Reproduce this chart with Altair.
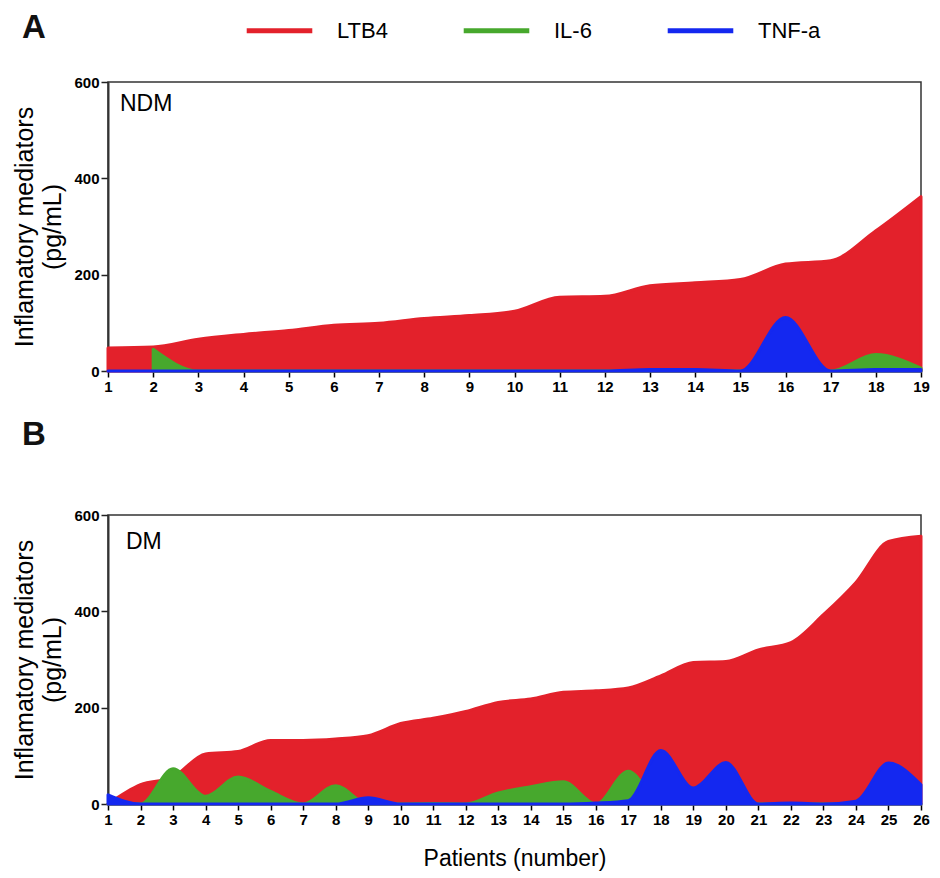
import altair as alt
import pandas as pd

# ---------------- data ----------------
mediators = ["LTB4", "IL-6", "TNF-a"]
colors = ["#e3212b", "#47a82d", "#1428f0"]

patients_ndm = list(range(1, 20))
ltb4_ndm = [48, 50, 66, 76, 84, 95, 99, 109, 115, 124, 153, 155, 177, 183, 190, 222, 229, 291, 362]
il6_ndm = [None, 45, 0, 0, 0, 0, 0, 0, 0, 0, 0, 0, 0, 0, 0, 0, 0, 34, 6]
tnf_ndm = [0, 0, 0, 0, 0, 0, 0, 0, 0, 0, 0, 0, 3, 3, 0, 111, 0, 3, 3]

patients_dm = list(range(1, 27))
ltb4_dm = [0, 40, 56, 104, 109, 132, 132, 135, 142, 167, 178, 192, 211, 218, 232, 235, 241, 266,
           294, 296, 320, 335, 393, 460, 545, 556]
il6_dm = [0, 0, 73, 16, 56, 26, 0, 38, 0, 0, 1, 0, 23, 36, 46, 0, 68, 0, 2, 0, 0, 0, 0, 0, 0, 0]
tnf_dm = [19, 0, 0, 0, 0, 0, 0, 0, 13, 0, 0, 0, 0, 0, 0, 2, 7, 111, 33, 86, 0, 2, 0, 6, 85, 40]

y_ticks = [0, 200, 400, 600]

FONT = "Liberation Sans"


def long_df(patients, series):
    rows = []
    for name, vals in zip(mediators, series):
        for p, v in zip(patients, vals):
            rows.append({"patient": p, "value": v, "mediator": name})
    return pd.DataFrame(rows)


def panel(patients, series, label, letter, letter_y, show_legend, show_xtitle):
    df = long_df(patients, series)
    n = patients[-1]
    x = alt.X(
        "patient:Q",
        scale=alt.Scale(domain=[1, n], nice=False, zero=False),
        axis=alt.Axis(
            values=patients, title="Patients (number)" if show_xtitle else None,
            labelFontWeight="bold", labelFontSize=15, labelFont=FONT,
            labelColor="black", labelPadding=2, tickSize=6, tickColor="black",
            tickWidth=1.5, domainColor="black", domainWidth=1.5, grid=False,
            labelFlush=False, titleFont=FONT, titleFontSize=23,
            titleFontWeight="normal", titleColor="black", titlePadding=20,
        ),
    )
    y = alt.Y(
        "value:Q",
        stack=None,
        scale=alt.Scale(domain=[0, 600], nice=False),
        axis=alt.Axis(
            values=y_ticks, title=["Inflamatory mediators", "(pg/mL)"],
            labelFontWeight="bold", labelFontSize=15, labelFont=FONT,
            labelColor="black", labelPadding=2, tickSize=7, tickColor="#222",
            tickWidth=1.5, domainColor="#333", domainWidth=2, grid=False,
            titleFont=FONT, titleFontSize=25, titleFontWeight="normal",
            titleColor="black", titlePadding=8, titleLineHeight=28,
        ),
    )
    if show_legend:
        legend = alt.Legend(
            title=None, orient="none", direction="horizontal",
            legendX=136, legendY=-87, symbolType="stroke", symbolSize=4300,
            symbolStrokeWidth=5, labelFont=FONT, labelFontSize=22,
            labelColor="black", labelOffset=22, columnPadding=65, padding=0,
        )
    else:
        legend = None
    stroke = alt.Stroke("mediator:N", scale=alt.Scale(domain=mediators, range=colors),
                        legend=legend)
    fill = alt.Fill("mediator:N", scale=alt.Scale(domain=mediators, range=colors),
                    legend=legend)
    layers = []
    for m in mediators:
        layers.append(
            alt.Chart(df).transform_filter(alt.datum.mediator == m)
            .mark_area(interpolate="monotone", strokeWidth=3, strokeJoin="round")
            .encode(x=x, y=y, fill=fill, stroke=stroke)
        )
    txt = alt.Chart(pd.DataFrame({"t": [label]})).mark_text(
        align="left", baseline="top", font=FONT, fontSize=23, color="black"
    ).encode(x=alt.value(12 if label == "NDM" else 18),
             y=alt.value(11 if label == "NDM" else 16), text="t:N")
    layers.append(txt)
    letter_txt = alt.Chart(pd.DataFrame({"t": [letter]})).mark_text(
        align="left", baseline="alphabetic", font=FONT, fontSize=33,
        fontWeight="bold", color="#111"
    ).encode(x=alt.value(-86), y=alt.value(letter_y), text="t:N")
    layers.append(letter_txt)
    return alt.layer(*layers).properties(width=813, height=289)


top = panel(patients_ndm, [ltb4_ndm, il6_ndm, tnf_ndm], "NDM", "A", -44, True, False)
bottom = panel(patients_dm, [ltb4_dm, il6_dm, tnf_dm], "DM", "B", -70, False, True)

chart = alt.vconcat(top, bottom, spacing=23).resolve_scale(
    stroke="independent", fill="independent"
).resolve_legend(stroke="independent", fill="independent").properties(
    padding={"left": 4, "top": -14, "right": 0, "bottom": 0}
).configure_view(stroke="#333", strokeWidth=1.5)

chart.save("out.html", embed_options={"renderer": "svg", "actions": False})
